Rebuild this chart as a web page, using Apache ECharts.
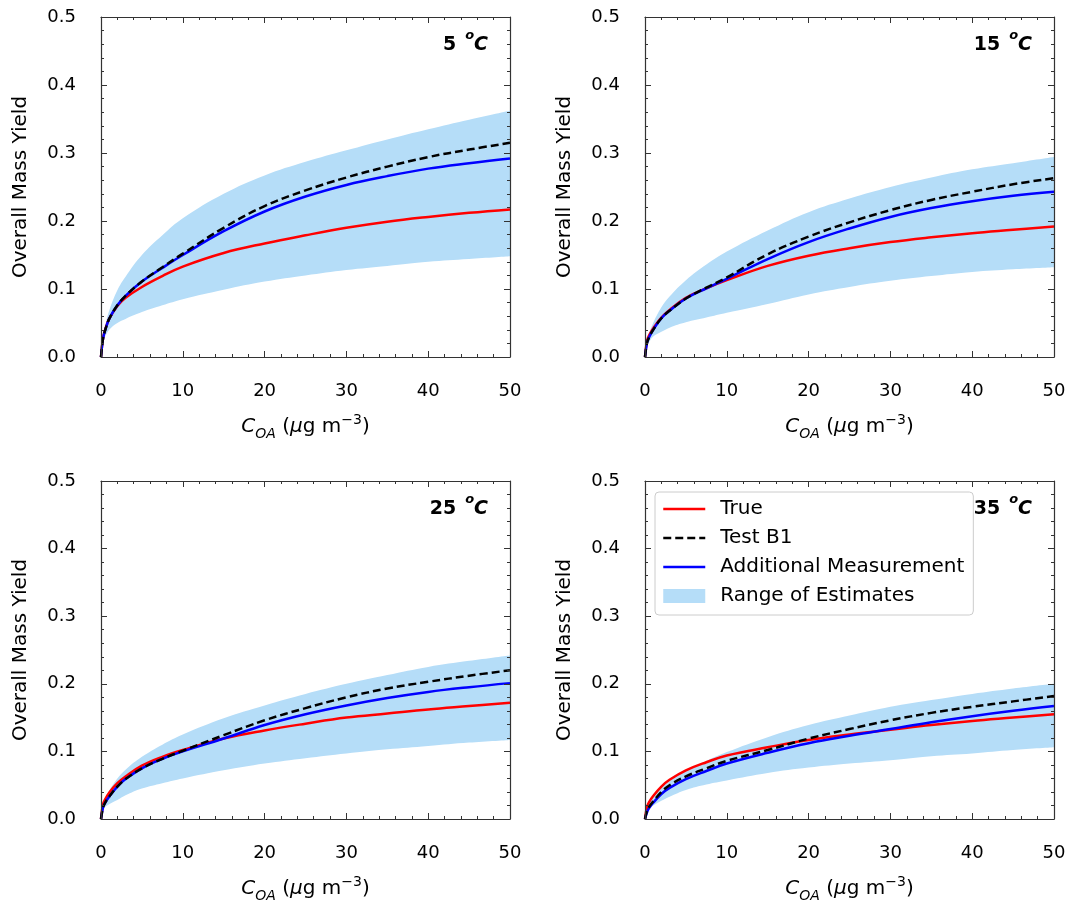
<!DOCTYPE html>
<html>
<head>
<meta charset="utf-8">
<script src="https://cdn.jsdelivr.net/npm/echarts@6/dist/echarts.min.js"></script>
<style>
html, body { margin: 0; padding: 0; background: #fff; }
#main { width: 1072px; height: 904px; }
</style>
</head>
<body>
<div id="main"></div>
<script>
// C_OA values (ug m-3) shared by every panel
var coa = [0, 0.25, 0.5, 1, 2, 3, 5, 7.5, 10, 15, 20, 25, 30, 35, 40, 45, 50];
var xTicks = [0, 10, 20, 30, 40, 50];
var yTicks = [0.0, 0.1, 0.2, 0.3, 0.4, 0.5];

// 5 oC
var hi5   = [0.020, 0.035, 0.046, 0.068, 0.098, 0.118, 0.150, 0.179, 0.204, 0.240, 0.267, 0.287, 0.304, 0.320, 0.335, 0.349, 0.362];
var lo5   = [0.015, 0.024, 0.030, 0.040, 0.050, 0.056, 0.066, 0.076, 0.085, 0.099, 0.111, 0.120, 0.128, 0.134, 0.140, 0.144, 0.148];
var test5 = [0.000, 0.027, 0.039, 0.056, 0.076, 0.090, 0.111, 0.132, 0.152, 0.190, 0.222, 0.245, 0.264, 0.280, 0.294, 0.305, 0.315];
var add5  = [0.000, 0.027, 0.039, 0.056, 0.076, 0.090, 0.111, 0.131, 0.150, 0.185, 0.214, 0.236, 0.253, 0.266, 0.277, 0.285, 0.292];
var true5 = [0.000, 0.028, 0.040, 0.056, 0.075, 0.087, 0.103, 0.119, 0.133, 0.153, 0.167, 0.179, 0.190, 0.199, 0.206, 0.212, 0.217];

// 15 oC
var hi15   = [0.015, 0.027, 0.035, 0.050, 0.073, 0.089, 0.113, 0.136, 0.155, 0.186, 0.213, 0.233, 0.250, 0.264, 0.276, 0.285, 0.294];
var lo15   = [0.012, 0.018, 0.022, 0.030, 0.037, 0.043, 0.051, 0.058, 0.065, 0.078, 0.092, 0.103, 0.112, 0.119, 0.125, 0.129, 0.132];
var test15 = [0.000, 0.021, 0.029, 0.040, 0.057, 0.068, 0.086, 0.102, 0.117, 0.151, 0.177, 0.198, 0.216, 0.231, 0.243, 0.254, 0.263];
var add15  = [0.000, 0.021, 0.029, 0.040, 0.057, 0.068, 0.086, 0.101, 0.115, 0.144, 0.169, 0.189, 0.206, 0.219, 0.229, 0.237, 0.243];
var true15 = [0.000, 0.024, 0.032, 0.042, 0.058, 0.069, 0.087, 0.101, 0.113, 0.134, 0.149, 0.160, 0.169, 0.176, 0.182, 0.187, 0.192];

// 25 oC
var hi25   = [0.012, 0.022, 0.030, 0.042, 0.060, 0.073, 0.092, 0.110, 0.125, 0.149, 0.168, 0.185, 0.200, 0.213, 0.225, 0.234, 0.242];
var lo25   = [0.010, 0.015, 0.018, 0.022, 0.028, 0.035, 0.045, 0.053, 0.060, 0.072, 0.082, 0.090, 0.097, 0.103, 0.108, 0.113, 0.117];
var test25 = [0.000, 0.017, 0.024, 0.033, 0.048, 0.059, 0.075, 0.089, 0.101, 0.124, 0.146, 0.164, 0.180, 0.193, 0.203, 0.212, 0.220];
var add25  = [0.000, 0.017, 0.024, 0.033, 0.048, 0.059, 0.075, 0.089, 0.100, 0.119, 0.139, 0.155, 0.168, 0.179, 0.188, 0.195, 0.201];
var true25 = [0.000, 0.022, 0.029, 0.039, 0.053, 0.063, 0.079, 0.092, 0.102, 0.119, 0.131, 0.141, 0.150, 0.156, 0.162, 0.167, 0.172];

// 35 oC
var hi35   = [0.010, 0.019, 0.025, 0.034, 0.046, 0.056, 0.071, 0.086, 0.099, 0.121, 0.139, 0.153, 0.166, 0.176, 0.185, 0.193, 0.200];
var lo35   = [0.008, 0.013, 0.016, 0.020, 0.027, 0.033, 0.043, 0.051, 0.057, 0.068, 0.076, 0.082, 0.087, 0.093, 0.097, 0.102, 0.106];
var test35 = [0.000, 0.012, 0.018, 0.026, 0.040, 0.050, 0.063, 0.075, 0.086, 0.102, 0.119, 0.133, 0.146, 0.157, 0.166, 0.174, 0.182];
var add35  = [0.000, 0.010, 0.016, 0.024, 0.037, 0.046, 0.059, 0.071, 0.082, 0.098, 0.112, 0.123, 0.133, 0.143, 0.152, 0.160, 0.167];
var true35 = [0.000, 0.018, 0.025, 0.034, 0.048, 0.058, 0.072, 0.084, 0.094, 0.106, 0.117, 0.125, 0.132, 0.139, 0.145, 0.150, 0.155];

var temps = ['5', '15', '25', '35'];
var panels = [
    { hi: hi5,  lo: lo5,  test: test5,  add: add5,  tru: true5 },
    { hi: hi15, lo: lo15, test: test15, add: add15, tru: true15 },
    { hi: hi25, lo: lo25, test: test25, add: add25, tru: true25 },
    { hi: hi35, lo: lo35, test: test35, add: add35, tru: true35 }
];

var FONT = 'DejaVu Sans';
var AX = '#333';
var BAND = '#b5ddf8';
var LW = 2.5;
var gridPos = [[101, 17], [645, 17], [101, 481], [645, 481]];
var PW = 409, PH = 340;

function pairs(ys) {
    return coa.map(function (x, i) { return [x, ys[i]]; });
}

var chart = echarts.init(document.getElementById('main'));

var grid = [], xAxis = [], yAxis = [], series = [], title = [];

gridPos.forEach(function (p, i) {
    grid.push({ left: p[0], top: p[1], width: PW, height: PH });

    var tick = { show: true, inside: true, length: 6, lineStyle: { color: AX, width: 1 } };
    var minor = { show: true, splitNumber: 5, length: 3, lineStyle: { color: AX, width: 1 } };
    var line = { show: true, onZero: false, lineStyle: { color: AX, width: 1.2 } };

    xAxis.push({
        type: 'value', gridIndex: i, position: 'bottom', z: 10,
        min: xTicks[0], max: xTicks[xTicks.length - 1], interval: 10,
        axisLine: line, axisTick: tick, minorTick: minor,
        splitLine: { show: false },
        axisLabel: { margin: 25, fontSize: 18, color: '#000', fontFamily: FONT },
        name: '{i|C}{sub|OA}{n| (}{i|\u03bc}{n|g m}{sup|\u22123}{n|)}',
        nameLocation: 'middle', nameGap: 56,
        nameTextStyle: {
            fontFamily: FONT, color: '#000',
            rich: {
                i: { fontSize: 20, fontStyle: 'italic', fontFamily: FONT, color: '#000', lineHeight: 28, verticalAlign: 'middle' },
                n: { fontSize: 20, fontFamily: FONT, color: '#000', lineHeight: 28, verticalAlign: 'middle' },
                sub: { fontSize: 14, fontStyle: 'italic', fontFamily: FONT, color: '#000', lineHeight: 28, verticalAlign: 'bottom' },
                sup: { fontSize: 14, fontFamily: FONT, color: '#000', lineHeight: 28, verticalAlign: 'top' }
            }
        }
    });
    xAxis.push({
        type: 'value', gridIndex: i, position: 'top', z: 10,
        min: 0, max: 50, interval: 10,
        axisLine: line, axisTick: tick, minorTick: minor,
        splitLine: { show: false }, axisLabel: { show: false }
    });
    yAxis.push({
        type: 'value', gridIndex: i, position: 'left', z: 10,
        min: yTicks[0], max: yTicks[yTicks.length - 1], interval: 0.1,
        axisLine: line, axisTick: tick, minorTick: minor,
        splitLine: { show: false },
        axisLabel: {
            margin: 25, fontSize: 18, color: '#000', fontFamily: FONT,
            formatter: function (v) { return v.toFixed(1); }
        },
        name: 'Overall Mass Yield', nameLocation: 'middle', nameGap: 70,
        nameTextStyle: { fontSize: 20, color: '#000', fontFamily: FONT }
    });
    yAxis.push({
        type: 'value', gridIndex: i, position: 'right', z: 10,
        min: 0, max: 0.5, interval: 0.1,
        axisLine: line, axisTick: tick, minorTick: minor,
        splitLine: { show: false }, axisLabel: { show: false }
    });

    var xi = i * 2, yi = i * 2;
    var d = panels[i];

    // band = upper edge filled to the axis, then lower edge filled white
    series.push({
        name: 'Range of Estimates', type: 'line', xAxisIndex: xi, yAxisIndex: yi,
        data: pairs(d.hi), symbol: 'none', smooth: 0.4,
        itemStyle: { color: BAND }, lineStyle: { opacity: 0 },
        areaStyle: { color: BAND, opacity: 1, origin: 'start' }, z: 1
    });
    series.push({
        type: 'line', xAxisIndex: xi, yAxisIndex: yi,
        data: pairs(d.lo), symbol: 'none', smooth: 0.4,
        itemStyle: { color: '#fff' }, lineStyle: { opacity: 0 },
        areaStyle: { color: '#fff', opacity: 1, origin: 'start' }, silent: true, z: 2
    });
    series.push({
        name: 'True', type: 'line', xAxisIndex: xi, yAxisIndex: yi,
        data: pairs(d.tru), symbol: 'none', smooth: 0.4,
        itemStyle: { color: '#ff0000' }, lineStyle: { color: '#ff0000', width: LW }, z: 3
    });
    series.push({
        name: 'Additional Measurement', type: 'line', xAxisIndex: xi, yAxisIndex: yi,
        data: pairs(d.add), symbol: 'none', smooth: 0.4,
        itemStyle: { color: '#0000ff' }, lineStyle: { color: '#0000ff', width: LW }, z: 4
    });
    series.push({
        name: 'Test B1', type: 'line', xAxisIndex: xi, yAxisIndex: yi,
        data: pairs(d.test), symbol: 'none', smooth: 0.4,
        itemStyle: { color: '#000000' }, lineStyle: { color: '#000000', width: LW, type: [8, 4] }, z: 5
    });

    title.push({
        text: '{b|' + temps[i] + '}{sp| }{s|o}{i|C}',
        right: 1072 - (p[0] + PW - 22), top: p[1] + 12, padding: 0,
        textStyle: {
            rich: {
                b: { fontSize: 19, fontWeight: 'bold', fontFamily: FONT, color: '#000', lineHeight: 26, verticalAlign: 'bottom' },
                sp: { fontSize: 19, width: 9, lineHeight: 26 },
                s: { fontSize: 13, fontStyle: 'italic', fontFamily: FONT, color: '#000', lineHeight: 26, verticalAlign: 'top' },
                i: { fontSize: 19, fontStyle: 'italic', fontFamily: FONT, color: '#000', lineHeight: 26, verticalAlign: 'bottom' }
            }
        }
    });
});

chart.setOption({
    animation: false,
    title: title,
    grid: grid,
    xAxis: xAxis,
    yAxis: yAxis,
    legend: {
        orient: 'vertical', left: 655, top: 492, z: 20,
        padding: [7, 9, 9, 7],
        itemWidth: 42, itemHeight: 14, itemGap: 9,
        itemStyle: { opacity: 0 },
        lineStyle: { width: LW },
        backgroundColor: 'rgba(255,255,255,0.85)',
        borderColor: '#cccccc', borderWidth: 1, borderRadius: 4,
        formatter: function (name) { return '{t|' + name + '}'; },
        textStyle: {
            fontSize: 20, color: '#000', fontFamily: FONT,
            rich: { t: { fontSize: 20, color: '#000', fontFamily: FONT, padding: [0, 0, 0, 10] } }
        },
        data: [
            { name: 'True' },
            { name: 'Test B1' },
            { name: 'Additional Measurement' },
            { name: 'Range of Estimates', icon: 'rect', itemStyle: { opacity: 1 } }
        ]
    },
    series: series
});
</script>
</body>
</html>
